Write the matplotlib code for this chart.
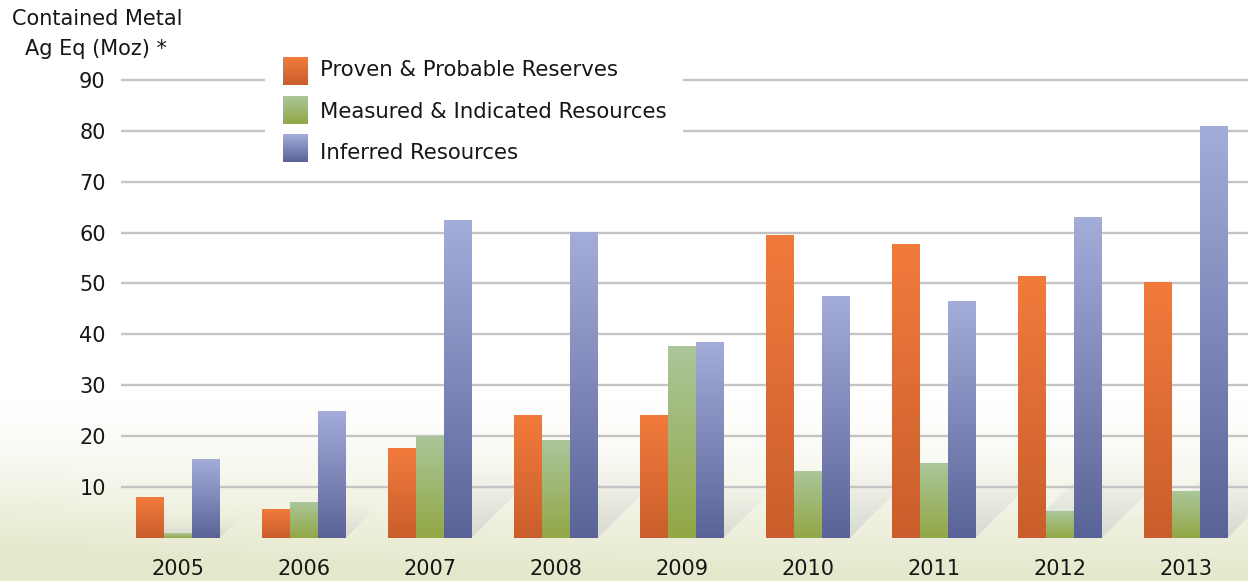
import numpy as np
import matplotlib
matplotlib.use("Agg")
import matplotlib.pyplot as plt
from matplotlib.colors import to_rgb
from matplotlib.patches import Polygon, Rectangle

# ----------------------------------------------------------------------
# Data (Moz Ag Eq contained metal)
# ----------------------------------------------------------------------
years = ["2005", "2006", "2007", "2008", "2009", "2010", "2011", "2012", "2013"]
proven = [8.0, 5.6, 17.6, 24.1, 24.1, 59.6, 57.7, 51.5, 50.3]
measured = [0.9, 7.0, 20.0, 19.2, 37.7, 13.1, 14.7, 5.2, 9.2]
inferred = [15.5, 24.9, 62.4, 60.1, 38.5, 47.5, 46.5, 63.1, 80.9]
y_ticks = [10, 20, 30, 40, 50, 60, 70, 80, 90]

series_names = [
    "Proven & Probable Reserves",
    "Measured & Indicated Resources",
    "Inferred Resources",
]
# (top colour, bottom colour) of each series gradient
series_colors = [
    ("#F27B3C", "#C95E2C"),
    ("#ABC69A", "#92A745"),
    ("#A4ACDA", "#5A6397"),
]

W, H, DPI = 1248, 581, 100
TEXT = "#161616"
FONT = 15
LEGEND_FONT = 15.3


def vgrad(top, bottom, n=256):
    """Column of colours running from *top* to *bottom*."""
    t = np.linspace(0, 1, n)[:, None, None]
    c0 = np.array(to_rgb(top))[None, None, :]
    c1 = np.array(to_rgb(bottom))[None, None, :]
    return c0 * (1 - t) + c1 * t


fig = plt.figure(figsize=(W / DPI, H / DPI), dpi=DPI)
fig.patch.set_facecolor("white")

# --- backdrop: white fading into a pale olive haze at the bottom -------
bg = fig.add_axes([0, 0, 1, 1], zorder=-10)
yy, xx = np.mgrid[0:H, 0:W]
t = np.clip((yy - 395) / (H - 395), 0, 1) ** 1.4
t = t + 0.25 * np.clip((yy - 430) / 150, 0, 1) * np.exp(-xx / 260)
t = np.clip(t, 0, 1)[..., None]
haze = np.array(to_rgb("#E4E7C9"))
bg.imshow(np.ones((H, W, 3)) * (1 - t) + haze * t, aspect="auto",
          interpolation="bilinear")
bg.set_axis_off()

# --- main chart axes ---------------------------------------------------
left, right = 121 / W, 1.0
y_zero, px_per_unit = 537.7, 5.086
y_max = 95
bottom = 1 - y_zero / H
height = y_max * px_per_unit / H
ax = fig.add_axes([left, bottom, right - left, height])
ax.set_facecolor("none")

x = np.arange(len(years))
bw = 0.222
ax.set_xlim(-0.452, len(years) - 1 + 0.492)
ax.set_ylim(0, y_max)

# cast shadows lying behind each group of bars
to_px = ax.transData.transform
for xi, vals in zip(x, zip(proven, measured, inferred)):
    x0, x1 = xi - 1.5 * bw, xi + 1.5 * bw
    d = min(0.27 * max(vals) * px_per_unit, 80)
    dx = d / (to_px((1, 0))[0] - to_px((0, 0))[0])
    dy = d / px_per_unit
    poly = Polygon([(x0, 0), (x1, 0), (x1 + dx, dy), (x0 + dx, dy)],
                   closed=True, facecolor="none", edgecolor="none")
    ax.add_patch(poly)
    shade = np.zeros((64, 1, 4))
    shade[..., :3] = to_rgb("#BEC0C7")
    shade[..., 3] = np.linspace(0.0, 0.5, 64)[:, None] ** 1.2
    im = ax.imshow(shade, extent=(x0, x1 + dx, 0, dy), origin="upper",
                   aspect="auto", zorder=1, interpolation="bilinear")
    im.set_clip_path(poly)

# gradient-filled bars
for i, (vals, (c_top, c_bot)) in enumerate(
        zip([proven, measured, inferred], series_colors)):
    bars = ax.bar(x + (i - 1) * bw, vals, bw, color=c_bot,
                  linewidth=0, zorder=3)
    for b in bars:
        bx, by = b.get_x(), b.get_y()
        im = ax.imshow(vgrad(c_top, c_bot),
                       extent=(bx, bx + b.get_width(), by, by + b.get_height()),
                       origin="upper", aspect="auto", zorder=3.1,
                       interpolation="bilinear")
        im.set_clip_path(b)

ax.set_xlim(-0.452, len(years) - 1 + 0.492)
ax.set_ylim(0, y_max)

ax.set_yticks(y_ticks)
ax.set_xticks(x)
ax.set_xticklabels(years)
ax.yaxis.grid(True, color="#C4C4C4", linewidth=1.7)
ax.xaxis.grid(False)
for sp in ax.spines.values():
    sp.set_visible(False)
ax.tick_params(axis="both", length=0, labelsize=FONT, labelcolor=TEXT)
ax.tick_params(axis="y", pad=11)
ax.tick_params(axis="x", pad=15)

# --- overlay in pixel coordinates: axis title and legend ----------------
ov = fig.add_axes([0, 0, 1, 1], zorder=10)
ov.set_xlim(0, W)
ov.set_ylim(H, 0)
ov.set_axis_off()
ov.patch.set_alpha(0)

ov.text(97, 19, "Contained Metal", ha="center", va="center",
        fontsize=FONT, color=TEXT)
ov.text(96, 49, "Ag Eq (Moz) *", ha="center", va="center",
        fontsize=FONT, color=TEXT)

ov.add_patch(Rectangle((265, 46), 418, 124, facecolor="white",
                       edgecolor="none", zorder=1))
swatch_rows = [71.5, 110.5, 148.5]
text_rows = [70.5, 111.5, 153]
for sy, ty, name, (c_top, c_bot) in zip(swatch_rows, text_rows,
                                        series_names, series_colors):
    ov.imshow(vgrad(c_top, c_bot), extent=(283, 308, sy + 14, sy - 14),
              origin="upper", aspect="auto", zorder=2,
              interpolation="bilinear")
    ov.text(320, ty, name, ha="left", va="center", fontsize=LEGEND_FONT,
            color=TEXT, zorder=3)
ov.set_xlim(0, W)
ov.set_ylim(H, 0)

fig.savefig("out.png", dpi=DPI)
